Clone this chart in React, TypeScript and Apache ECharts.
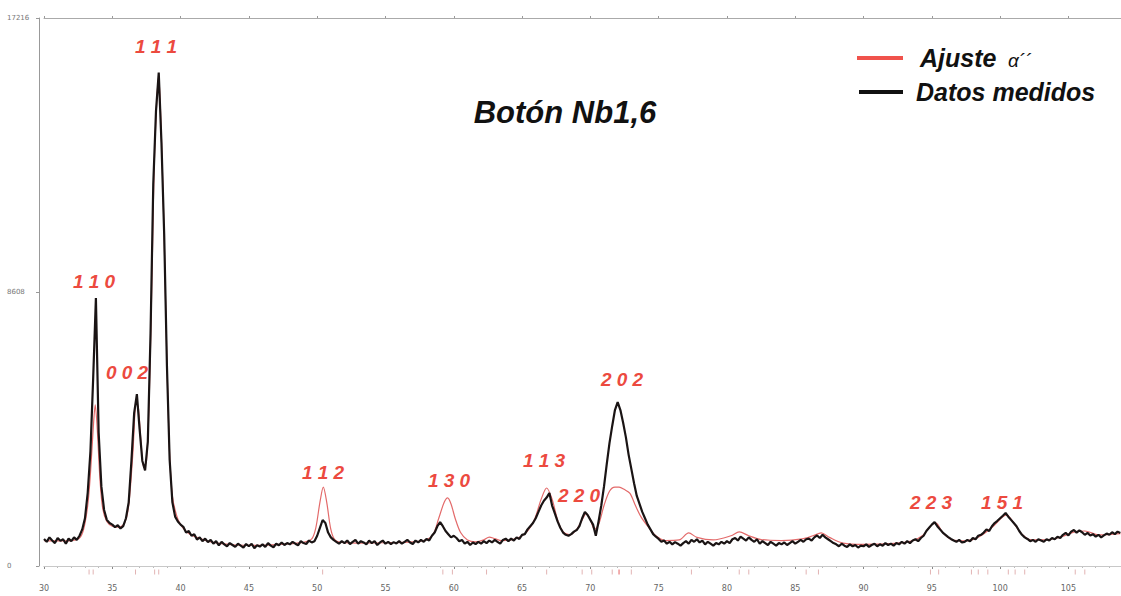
import React, { useEffect, useRef } from "react";
import * as echarts from "echarts";

// ---- Data ----
const scanStart = 30.0;
const scanStep = 0.2;
// measured intensities (counts), 30.0° .. 108.8°, every 0.2°
const measuredCounts: number[] = [
  850, 760, 900, 800, 720, 880, 790, 840, 700, 860, // 30
  780, 900, 820, 950, 1150, 1500, 2300, 3600, 5900, 8420, // 32
  4200, 2500, 1760, 1450, 1350, 1300, 1220, 1280, 1180, 1250, // 34
  1500, 2000, 3300, 4800, 5400, 4300, 3300, 3000, 3900, 7300, // 36
  12000, 14300, 15500, 13300, 10400, 6300, 3330, 2000, 1550, 1400, // 38
  1300, 1230, 1050, 1100, 950, 1000, 830, 900, 780, 860, // 40
  750, 820, 700, 780, 650, 760, 680, 620, 720, 660, // 42
  600, 700, 640, 580, 690, 620, 700, 560, 650, 610, // 44
  680, 600, 720, 640, 590, 700, 650, 740, 660, 720, // 46
  680, 760, 700, 650, 780, 720, 690, 800, 740, 780, // 48
  950, 1200, 1445, 1350, 1050, 900, 820, 760, 700, 780, // 50
  720, 800, 690, 760, 820, 700, 780, 740, 680, 800, // 52
  720, 780, 660, 740, 800, 700, 760, 690, 750, 710, // 54
  780, 700, 760, 820, 740, 690, 800, 740, 820, 760, // 56
  850, 800, 950, 1050, 1250, 1380, 1250, 1100, 1000, 900, // 58
  950, 880, 780, 820, 700, 760, 660, 740, 690, 760, // 60
  700, 780, 720, 800, 740, 820, 760, 700, 820, 860, // 62
  780, 860, 800, 900, 850, 980, 1000, 1150, 1250, 1350, // 64
  1500, 1700, 1900, 2050, 2150, 2290, 1900, 1650, 1400, 1200, // 66
  1050, 980, 950, 1000, 1080, 1130, 1250, 1500, 1700, 1600, // 68
  1450, 1300, 950, 1400, 1900, 2500, 3200, 3860, 4400, 4900, // 70
  5150, 4900, 4500, 4050, 3500, 3050, 2600, 2200, 1950, 1700, // 72
  1500, 1300, 1150, 1000, 920, 850, 760, 800, 700, 760, // 74
  680, 750, 700, 640, 720, 780, 700, 820, 760, 840, // 76
  740, 800, 680, 760, 700, 640, 720, 680, 760, 700, // 78
  780, 720, 840, 880, 800, 920, 860, 800, 900, 820, // 80
  760, 840, 700, 780, 720, 660, 760, 700, 640, 720, // 82
  680, 740, 660, 720, 780, 700, 760, 820, 760, 840, // 84
  860, 800, 900, 960, 880, 980, 900, 840, 780, 720, // 86
  680, 620, 700, 640, 600, 680, 620, 660, 580, 640, // 88
  620, 680, 600, 660, 700, 620, 680, 640, 720, 660, // 90
  700, 640, 720, 680, 760, 700, 780, 720, 800, 840, // 92
  780, 880, 950, 1100, 1200, 1300, 1380, 1250, 1150, 1050, // 94
  980, 910, 850, 800, 760, 820, 740, 760, 820, 780, // 96
  880, 840, 950, 980, 1050, 1150, 1100, 1250, 1350, 1420, // 98
  1500, 1580, 1665, 1550, 1450, 1350, 1250, 1100, 980, 900, // 100
  850, 780, 820, 760, 840, 800, 760, 840, 800, 880, // 102
  840, 920, 880, 980, 1040, 960, 1080, 1130, 1050, 1120, // 104
  1060, 980, 1040, 960, 1000, 920, 980, 900, 960, 1020, // 106
  980, 1060, 1000, 1080, 1040, // 108
];

// fitted alpha'' profile: [2theta, counts]
const fitProfile: [number, number][] = [
  [30, 800], [31, 790], [32, 800], [32.6, 880], [32.9, 1150], [33.2, 1900], [33.4, 2900],
  [33.6, 4300], [33.75, 5060], [33.9, 4300], [34.1, 2700], [34.3, 1800], [34.6, 1400],
  [35.0, 1250], [35.5, 1220], [35.9, 1350], [36.2, 1900], [36.5, 3500], [36.75, 5100],
  [36.9, 5000], [37.1, 3900], [37.3, 3100], [37.5, 3300], [37.7, 5200], [37.9, 9000],
  [38.1, 13000], [38.4, 15400], [38.6, 13400], [38.8, 10300], [39.0, 6400], [39.2, 3500],
  [39.4, 2200], [39.7, 1600], [40.0, 1300], [40.5, 1050], [41, 930], [42, 780], [43, 700],
  [44, 660], [46, 650], [48, 700], [49, 740], [49.6, 850], [49.9, 1200], [50.2, 2000],
  [50.45, 2480], [50.7, 2000], [51.0, 1150], [51.3, 820], [51.8, 740], [53, 720], [55, 730],
  [57, 760], [58, 820], [58.5, 1000], [58.9, 1500], [59.3, 2000], [59.55, 2140], [59.8, 1950],
  [60.1, 1500], [60.5, 1050], [61, 820], [61.6, 760], [62.2, 820], [62.6, 910], [63.0, 860],
  [63.5, 800], [64.5, 850], [65.3, 1050], [65.9, 1450], [66.4, 2100], [66.8, 2450],
  [67.2, 2100], [67.6, 1450], [68.0, 1080], [68.5, 980], [69.0, 1150], [69.4, 1450],
  [69.7, 1650], [70.0, 1450], [70.3, 1150], [70.6, 1300], [71.0, 1900], [71.4, 2350],
  [71.8, 2480], [72.1, 2480], [72.5, 2400], [72.9, 2280], [73.3, 1900], [73.7, 1550],
  [74.2, 1250], [74.8, 950], [75.5, 800], [76.5, 820], [77.2, 1040], [77.8, 900], [79, 820],
  [80.3, 950], [80.9, 1070], [81.6, 950], [82.5, 830], [84, 800], [85.5, 850], [86.3, 950],
  [86.9, 1040], [87.5, 900], [88.5, 720], [90, 680], [92, 700], [93.5, 780], [94.3, 950],
  [95.0, 1300], [95.3, 1350], [95.8, 1050], [96.5, 820], [97.5, 790], [98.5, 930],
  [99.5, 1250], [100.2, 1550], [100.5, 1600], [101, 1350], [101.6, 1000], [102.3, 820],
  [103.5, 830], [104.5, 920], [105.5, 1080], [106.2, 1100], [107.2, 980], [108.8, 1020],
];

// Bragg reflection positions (2theta)
const braggPositions: number[] = [
  33.3, 33.6, 36.7, 38.1, 38.4, 50.4, 59.2, 59.9, 62.4, 66.8, 69.4, 70.1, 71.6, 72.1,
  73.0, 77.4, 80.9, 81.6, 85.8, 86.7, 94.9, 95.5, 97.9, 98.4, 99.1, 100.6, 101.1, 101.8,
  105.5, 106.2,
];
const highlightedBragg = 72.1;

const peakLabels: string[] = ["1 1 1", "1 1 0", "0 0 2", "1 1 2", "1 3 0", "1 1 3", "2 2 0", "2 0 2", "2 2 3", "1 5 1"];
const titleText = "Botón Nb1,6";
const legendFit = "Ajuste";
const legendFitSymbol = "α´´";
const legendMeasured = "Datos medidos";

const yMax = 17216;
const yInterval = 8608;
const xMin = 30;
const xMax = 108.85;

// ---- layout (pixels) ----
const peakLabelPos: [number, number][] = [
  [156, 46], [94, 281], [127, 372], [323, 472], [449, 480],
  [544, 460], [579, 495], [622, 379], [931, 502], [1002, 502],
];

export default function App() {
  const ref = useRef<HTMLDivElement>(null);
  useEffect(() => {
    if (!ref.current) return;
    const chart = echarts.init(ref.current, undefined, { renderer: "svg" });
    const measuredData = measuredCounts.map((v, i) => [
      Math.round((scanStart + i * scanStep) * 10) / 10,
      v,
    ]);
    const labelFont = 'italic bold 19px "Liberation Sans", Arial, sans-serif';
    const graphics: any[] = peakLabels.map((t, i) => ({
      type: "text",
      x: peakLabelPos[i][0],
      y: peakLabelPos[i][1],
      z: 10,
      style: {
        text: t,
        fill: "#ec4a3f",
        font: labelFont,
        textAlign: "center",
        textVerticalAlign: "middle",
      },
    }));
    graphics.push(
      {
        type: "text",
        x: 565,
        y: 112,
        style: {
          text: titleText,
          fill: "#111",
          font: 'italic bold 31px "Liberation Sans", Arial, sans-serif',
          textAlign: "center",
          textVerticalAlign: "middle",
        },
      },
      { type: "rect", shape: { x: 857, y: 56, width: 46, height: 4 }, style: { fill: "#f0524c" } },
      { type: "rect", shape: { x: 859, y: 90, width: 44, height: 4 }, style: { fill: "#111" } },
      {
        type: "text",
        x: 920,
        y: 58,
        style: {
          text: legendFit,
          fill: "#111",
          font: 'italic bold 25px "Liberation Sans", Arial, sans-serif',
          textAlign: "left",
          textVerticalAlign: "middle",
        },
      },
      {
        type: "text",
        x: 1008,
        y: 60,
        style: {
          text: legendFitSymbol,
          fill: "#111",
          font: 'italic 19px "Liberation Sans", Arial, sans-serif',
          textAlign: "left",
          textVerticalAlign: "middle",
        },
      },
      {
        type: "text",
        x: 916,
        y: 92,
        style: {
          text: legendMeasured,
          fill: "#111",
          font: 'italic bold 25px "Liberation Sans", Arial, sans-serif',
          textAlign: "left",
          textVerticalAlign: "middle",
        },
      }
    );

    chart.setOption({
      animation: false,
      backgroundColor: "#fff",
      grid: [
        { left: 44, right: 0, top: 18, bottom: 30 },
        { left: 44, right: 0, top: 569, bottom: 21 },
      ],
      xAxis: [
        {
          type: "value",
          gridIndex: 0,
          position: "bottom",
          min: xMin,
          max: xMax,
          interval: 5,
          offset: 13,
          axisLine: { show: true, lineStyle: { color: "#aaa", width: 1, type: "dashed" } },
          axisTick: { show: true, length: 3, lineStyle: { color: "#888" } },
          minorTick: { show: true, splitNumber: 5, length: 2, lineStyle: { color: "#bbb" } },
          axisLabel: {
            show: true,
            color: "#666",
            fontSize: 8,
            margin: 5,
            showMaxLabel: false,
            fontFamily: "DejaVu Sans",
          },
          splitLine: { show: false },
        },
        {
          type: "value",
          gridIndex: 0,
          position: "top",
          min: xMin,
          max: xMax,
          interval: 5,
          axisLine: { show: true, lineStyle: { color: "#aaa", width: 1 } },
          axisTick: { show: true, length: 2, inside: false, lineStyle: { color: "#999" } },
          axisLabel: { show: false },
          splitLine: { show: false },
        },
        {
          type: "value",
          gridIndex: 1,
          min: xMin,
          max: xMax,
          show: false,
        },
      ],
      yAxis: [
        {
          type: "value",
          gridIndex: 0,
          min: 0,
          max: yMax,
          interval: yInterval,
          offset: 5,
          axisLine: { show: true, lineStyle: { color: "#999", width: 1 } },
          axisTick: { show: true, length: 3, lineStyle: { color: "#999" } },
          axisLabel: {
            show: true,
            color: "#777",
            fontSize: 7,
            align: "left",
            margin: 32,
            fontFamily: "DejaVu Sans",
            formatter: (v: number) => String(v),
          },
          splitLine: { show: false },
        },
        { type: "value", gridIndex: 1, min: 0, max: 1, show: false },
      ],
      series: [
        {
          name: "Ajuste",
          type: "line",
          xAxisIndex: 0,
          yAxisIndex: 0,
          data: fitProfile,
          showSymbol: false,
          symbol: "none",
          smooth: 0.3,
          lineStyle: { color: "#e36a6a", width: 1.2 },
          z: 2,
          markLine: {
            silent: true,
            symbol: "none",
            label: { show: false },
            lineStyle: { color: "#c8c8c8", width: 1, type: "solid" },
            data: [{ yAxis: 0 }],
          },
        },
        {
          name: "Datos medidos",
          type: "line",
          xAxisIndex: 0,
          yAxisIndex: 0,
          data: measuredData,
          showSymbol: false,
          symbol: "none",
          lineStyle: { color: "#1a1414", width: 2.2 },
          z: 3,
        },
        {
          name: "Bragg",
          type: "scatter",
          xAxisIndex: 2,
          yAxisIndex: 1,
          symbol: "rect",
          symbolSize: [1, 5],
          data: braggPositions.map((p) => ({
            value: [p, 0.5],
            itemStyle: { color: p === highlightedBragg ? "#e03a3a" : "#dba0a0" },
          })),
          z: 2,
        },
      ],
      graphic: graphics,
    });
    return () => chart.dispose();
  }, []);
  return <div ref={ref} style={{ width: 1121, height: 596, position: "absolute", left: 0, top: 0 }} />;
}
